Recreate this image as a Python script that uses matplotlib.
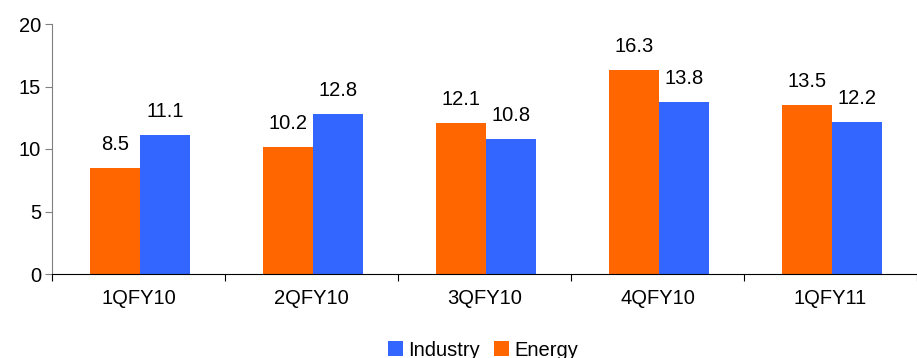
import matplotlib.pyplot as plt
import numpy as np

plt.rcParams['font.family'] = ['Liberation Sans', 'DejaVu Sans']

quarters = ["1QFY10", "2QFY10", "3QFY10", "4QFY10", "1QFY11"]
energy = [8.5, 10.2, 12.1, 16.3, 13.5]
industry = [11.1, 12.8, 10.8, 13.8, 12.2]

ORANGE = "#FF6600"
BLUE = "#3366FF"
FS = 14.5

fig = plt.figure(figsize=(9.17, 3.58), dpi=100)
ax = fig.add_axes([52 / 917, 1 - 274 / 358, 1 - 52 / 917, 250 / 358])

x = np.arange(len(quarters)) + 0.01
w = 0.29
b_energy = ax.bar(x - w / 2, energy, w, color=ORANGE, label="Energy")
b_industry = ax.bar(x + w / 2, industry, w, color=BLUE, label="Industry")

# value labels above each bar
for bars, vals in [(b_energy, energy), (b_industry, industry)]:
    for rect, v in zip(bars, vals):
        ax.annotate(f"{v:.1f}", (rect.get_x() + rect.get_width() / 2, v),
                    xytext=(0, 10), textcoords="offset points",
                    ha="center", va="bottom", fontsize=FS)

ax.set_xlim(-0.5, len(quarters) - 0.5)
ax.set_ylim(0, 20)
ax.set_yticks([0, 5, 10, 15, 20])

# category separators as ticks, labels centred in between
ax.set_xticks(np.arange(len(quarters) + 1) - 0.5)
ax.set_xticklabels([])
ax.set_xticks(np.arange(len(quarters)), minor=True)
ax.set_xticklabels(quarters, minor=True)
ax.tick_params(axis="x", which="major", length=5, direction="out", color="black")
ax.tick_params(axis="x", which="minor", length=0, pad=11, labelsize=FS)
ax.tick_params(axis="y", length=5, direction="out", color="#808080", labelsize=FS, pad=3)

for side in ["top", "right"]:
    ax.spines[side].set_visible(False)
ax.spines["left"].set_color("#808080")
ax.spines["bottom"].set_color("black")

handles = [b_industry, b_energy]
fig.legend(handles, ["Industry", "Energy"], loc="lower center",
           bbox_to_anchor=(0.527, -0.055), ncol=2, frameon=False,
           fontsize=FS, handlelength=0.75, handleheight=0.75,
           handletextpad=0.25, columnspacing=0.7)

fig.savefig("out.png", dpi=100)
